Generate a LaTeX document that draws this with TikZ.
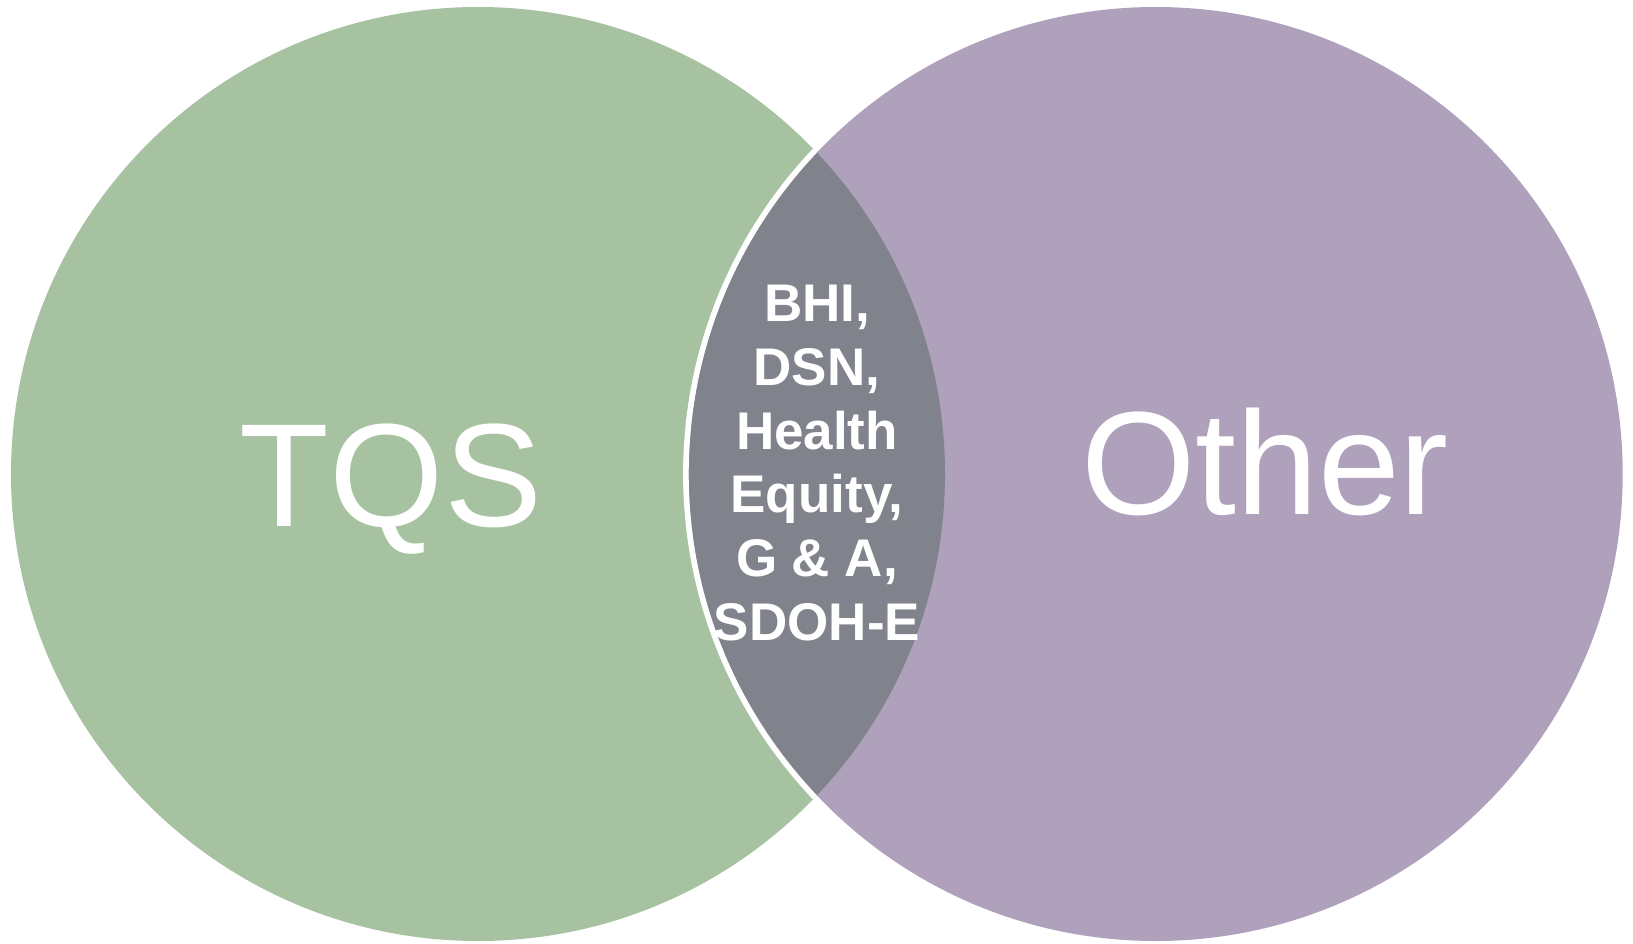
\documentclass[tikz,border=0pt]{standalone}
\usepackage{fontspec}
\setmainfont{Liberation Sans}
\definecolor{tqsgreen}{RGB}{166,194,160}
\definecolor{otherpurple}{RGB}{175,161,187}
\definecolor{lensgray}{RGB}{129,131,140}
\tikzset{
  bigword/.style={text=white, inner sep=0pt, font=\fontsize{147}{150}\selectfont},
  lensword/.style={text=white, inner sep=0pt, align=center, font=\fontsize{53}{63.7}\bfseries\selectfont}
}
\begin{document}
\begin{tikzpicture}[x=1pt,y=-1pt]
\useasboundingbox (0,0) rectangle (1633,944);
\fill[white] (0,0) rectangle (1633,944);
\coordinate (cl) at (478,474);
\coordinate (cr) at (1155.7,474);
% circles
\fill[tqsgreen] (cl) circle[radius=467];
\fill[otherpurple] (cr) circle[radius=467];
% lens
\begin{scope}
  \clip (cl) circle[radius=467];
  \fill[lensgray] (cr) circle[radius=467];
  \draw[white, line width=5.6pt] (cr) circle[radius=469.8];
\end{scope}
% texts
\node[bigword, anchor=base] (tqs) at (391,526) {TQS};
\node[bigword, anchor=base] (other) at (1265,514.5) {Other};
\node[lensword, anchor=north] (shared) at (817,285) {BHI,\\DSN,\\Health\\Equity,\\G \& A,\\SDOH-E};
\end{tikzpicture}
\end{document}
